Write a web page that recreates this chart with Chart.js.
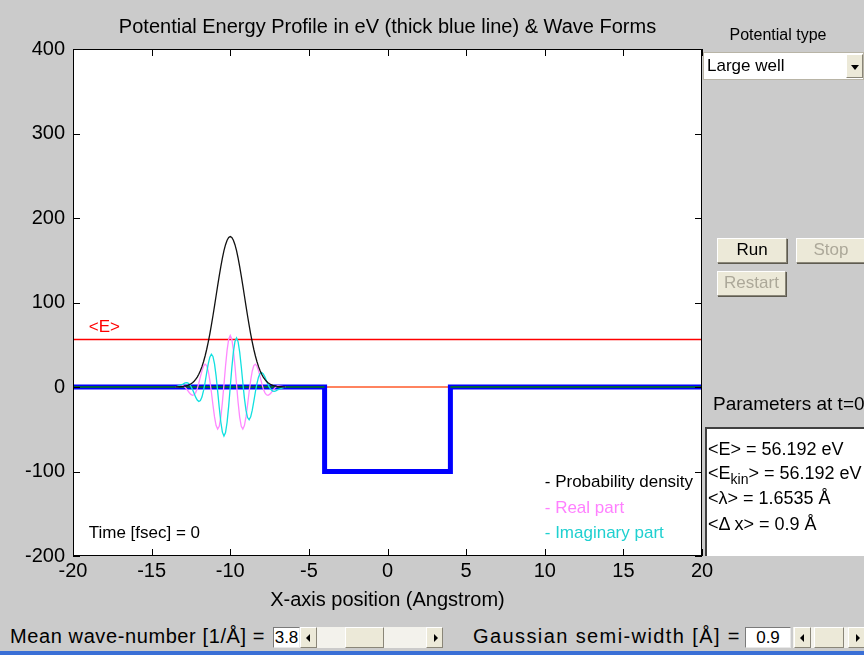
<!DOCTYPE html>
<html>
<head>
<meta charset="utf-8">
<script src="https://cdn.jsdelivr.net/npm/chart.js@4.4.0/dist/chart.umd.min.js"></script>
<style>
  body { margin: 0; width: 864px; height: 655px; background: #cbcbcb; overflow: hidden; position: relative; font-family: Arial, "Liberation Sans", sans-serif; color: #000; }
  .abs { position: absolute; white-space: nowrap; }
  .btn { background: #ece9d8; border: 1px solid; border-color: #fff #8a8678 #8a8678 #fff; box-shadow: 1px 1px 0 #5e5b50; text-align: center; font-size: 17px; box-sizing: border-box; }
  .off { color: #aca899; }
  .edit { background: #fff; border: 1px solid; border-color: #7a7a7a #e8e8e8 #e8e8e8 #7a7a7a; box-sizing: border-box; font-size: 17px; text-align: center; }
  .arrow { background: #ece9d8; border: 1px solid; border-color: #fff #8a8678 #8a8678 #fff; box-sizing: border-box; }
  .track { background: #f3f2ec; }
  .lbl { font-size: 20px; letter-spacing: 0.6px; }
  .tri-l { position: absolute; top: 6px; left: 5px; width: 0; height: 0; border-top: 4px solid transparent; border-bottom: 4px solid transparent; border-right: 4px solid #000; }
  .tri-r { position: absolute; top: 6px; left: 7px; width: 0; height: 0; border-top: 4px solid transparent; border-bottom: 4px solid transparent; border-left: 4px solid #000; }
</style>
</head>
<body>
<canvas id="chart" class="abs" style="left:0;top:0" width="760" height="612"></canvas>

<!-- right panel -->
<div class="abs" style="left:692px;top:26px;width:172px;text-align:center;font-size:16px;">Potential type</div>
<div class="abs" style="left:703px;top:52px;width:161px;height:28px;background:#fff;border:1px solid #b8b4a6;box-sizing:border-box;">
  <div class="abs" style="left:3px;top:2px;font-size:17px;line-height:22px;">Large well</div>
  <div class="abs arrow" style="right:0;top:1px;width:17px;height:24px;">
    <div class="abs" style="left:4px;top:10px;width:0;height:0;border-left:4px solid transparent;border-right:4px solid transparent;border-top:5px solid #000;"></div>
  </div>
</div>
<div class="abs btn" style="left:717px;top:238px;width:70px;height:25px;line-height:22px;">Run</div>
<div class="abs btn off" style="left:796px;top:238px;width:70px;height:25px;line-height:22px;">Stop</div>
<div class="abs btn off" style="left:717px;top:271px;width:69px;height:25px;line-height:22px;">Restart</div>
<div class="abs" style="left:713px;top:393px;font-size:19px;">Parameters at t=0</div>
<div class="abs" style="left:705px;top:427px;width:162px;height:129px;background:#fff;border-left:2px solid #404040;border-top:2px solid #404040;box-sizing:border-box;font-size:18px;">
  <div class="abs" style="left:1px;top:10px;">&lt;E&gt; = 56.192 eV</div>
  <div class="abs" style="left:1px;top:34px;">&lt;E<sub style="font-size:14px;">kin</sub>&gt; = 56.192 eV</div>
  <div class="abs" style="left:1px;top:59px;">&lt;λ&gt; = 1.6535 Å</div>
  <div class="abs" style="left:1px;top:85px;">&lt;Δ x&gt; = 0.9 Å</div>
</div>

<!-- bottom controls -->
<div class="abs lbl" style="left:10px;top:625px;">Mean wave-number [1/Å] =</div>
<div class="abs edit" style="left:273px;top:627px;width:27px;height:21px;line-height:19px;">3.8</div>
<div class="abs track" style="left:300px;top:627px;width:143px;height:21px;"></div>
<div class="abs arrow" style="left:300px;top:627px;width:17px;height:21px;"><div class="tri-l"></div></div>
<div class="abs arrow" style="left:345px;top:627px;width:39px;height:21px;"></div>
<div class="abs arrow" style="left:426px;top:627px;width:17px;height:21px;"><div class="tri-r"></div></div>

<div class="abs lbl" style="left:473px;top:625px;letter-spacing:1.4px;">Gaussian semi-width [Å] =</div>
<div class="abs edit" style="left:745px;top:627px;width:46px;height:21px;line-height:19px;">0.9</div>
<div class="abs track" style="left:793px;top:627px;width:80px;height:21px;"></div>
<div class="abs arrow" style="left:794px;top:627px;width:17px;height:21px;"><div class="tri-l"></div></div>
<div class="abs arrow" style="left:814px;top:627px;width:30px;height:21px;"></div>
<div class="abs arrow" style="left:848px;top:627px;width:17px;height:21px;"><div class="tri-r"></div></div>
<div class="abs" style="left:0;top:651px;width:864px;height:4px;background:#3a6fd6;"></div>

<script>
// potential profile (eV)
const xWell = [-20, -4, -4, 4, 4, 20];
const vWell = [0, 0, -100, -100, 0, 0];
const xOuter = [-20, -4, 0, 4, 20];
const vOuter = [0, 0, null, 0, 0];
const xLine = [-20, 20];
const zeroLine = [0, 0];
const meanE = [56.192, 56.192];

// wave packet at t = 0
const xWave = [-13.5, -13.0, -12.9, -12.8, -12.7, -12.6, -12.5, -12.4, -12.3, -12.2, -12.1, -12.0, -11.9, -11.8, -11.7, -11.6,
  -11.5, -11.4, -11.3, -11.2, -11.1, -11.0, -10.9, -10.8, -10.7, -10.6, -10.5, -10.4, -10.3, -10.2, -10.1, -10.0,
  -9.9, -9.8, -9.7, -9.6, -9.5, -9.4, -9.3, -9.2, -9.1, -9.0, -8.9, -8.8, -8.7, -8.6, -8.5, -8.4, -8.3, -8.2, -8.1,
  -8.0, -7.9, -7.8, -7.7, -7.6, -7.5, -7.4, -7.3, -7.2, -7.1, -7.0, -6.5];
const density = [0, 0.7, 1.0, 1.4, 2.0, 2.7, 3.8, 5.1, 6.8, 9.0, 11.7, 15.1, 19.2, 24.1, 29.9, 36.7, 44.4, 53.1, 62.7, 73.2, 84.3,
  96.0, 108.0, 119.9, 131.5, 142.5, 152.5, 161.3, 168.4, 173.7, 176.9, 178.0, 176.9, 173.7, 168.4, 161.3, 152.5, 142.5,
  131.5, 119.9, 108.0, 96.0, 84.3, 73.2, 62.7, 53.1, 44.4, 36.7, 29.9, 24.1, 19.2, 15.1, 11.7, 9.0, 6.8, 5.1, 3.8, 2.7,
  2.0, 1.4, 1.0, 0.7, 0];
const realPart = [0, 1.5, 0.1, -1.9, -4.3, -6.8, -8.8, -9.8, -9.2, -6.6, -2.0, 4.5, 11.9, 19.1, 24.6, 27.1, 25.4, 19.0, 8.2, -5.9,
  -21.3, -35.4, -45.7, -49.8, -46.5, -35.6, -18.3, 3.0, 24.8, 43.7, 56.5, 61.0, 56.5, 43.7, 24.8, 3.0, -18.3, -35.6, -46.5,
  -49.8, -45.7, -35.4, -21.3, -5.9, 8.2, 19.0, 25.4, 27.1, 24.6, 19.1, 11.9, 4.5, -2.0, -6.6, -9.2, -9.8, -8.8, -6.8, -4.3,
  -1.9, 0.1, 1.5, 0];
const imagPart = [0, 3.5, 4.6, 5.1, 4.8, 3.3, 0.7, -3.1, -7.5, -12.0, -15.5, -17.2, -16.1, -11.9, -4.4, 5.6, 16.8, 27.4, 35.3,
  38.7, 36.2, 27.4, 13.1, -5.1, -24.3, -41.4, -53.4, -58.0, -53.9, -41.5, -22.6, 0, 22.6, 41.5, 53.9, 58.0, 53.4, 41.4,
  24.3, 5.1, -13.1, -27.4, -36.2, -38.7, -35.3, -27.4, -16.8, -5.6, 4.4, 11.9, 16.1, 17.2, 15.5, 12.0, 7.5, 3.1, -0.7,
  -3.3, -4.8, -5.1, -4.6, -3.5, 0];

const xTicks = [-20, -15, -10, -5, 0, 5, 10, 15, 20];
const yTicks = [-200, -100, 0, 100, 200, 300, 400];

function pts(xs, ys) {
  return xs.map((x, i) => ({ x: x, y: ys[i] }));
}

// white plot box, inward ticks on all sides, text notes
const frame = {
  id: "frame",
  beforeDraw(chart) {
    const { ctx, chartArea: a } = chart;
    ctx.save();
    ctx.fillStyle = "#fff";
    ctx.fillRect(a.left, a.top, a.right - a.left, a.bottom - a.top);
    ctx.restore();
  },
  afterDraw(chart) {
    const { ctx, chartArea: a, scales } = chart;
    const sx = scales.x, sy = scales.y;
    ctx.save();
    ctx.strokeStyle = "#000";
    ctx.lineWidth = 1;
    ctx.strokeRect(a.left + 0.5, a.top + 0.5, a.right - a.left - 1, a.bottom - a.top - 1);
    ctx.beginPath();
    xTicks.forEach(v => {
      const px = Math.round(sx.getPixelForValue(v)) + 0.5;
      ctx.moveTo(px, a.bottom); ctx.lineTo(px, a.bottom - 7);
      ctx.moveTo(px, a.top); ctx.lineTo(px, a.top + 7);
    });
    yTicks.forEach(v => {
      const py = Math.round(sy.getPixelForValue(v)) + 0.5;
      ctx.moveTo(a.left, py); ctx.lineTo(a.left + 7, py);
      ctx.moveTo(a.right, py); ctx.lineTo(a.right - 7, py);
    });
    ctx.stroke();

    ctx.font = "17px Arial";
    ctx.textBaseline = "middle";
    ctx.textAlign = "left";
    ctx.fillStyle = "#ff0000";
    ctx.fillText("<E>", sx.getPixelForValue(-19), sy.getPixelForValue(71));
    ctx.fillStyle = "#000";
    ctx.fillText("Time [fsec] = 0", sx.getPixelForValue(-19), sy.getPixelForValue(-173));
    ctx.fillText("- Probability density", sx.getPixelForValue(10), sy.getPixelForValue(-113));
    ctx.fillStyle = "#ff80ff";
    ctx.fillText("- Real part", sx.getPixelForValue(10), sy.getPixelForValue(-143));
    ctx.fillStyle = "#1fd0d0";
    ctx.fillText("- Imaginary part", sx.getPixelForValue(10), sy.getPixelForValue(-173));
    ctx.restore();
  }
};

const line = (data, color, width, order) => ({
  data: data, borderColor: color, borderWidth: width, pointRadius: 0,
  showLine: true, fill: false, tension: 0, spanGaps: false, order: order
});

new Chart(document.getElementById("chart").getContext("2d"), {
  type: "scatter",
  data: {
    datasets: [
      line(pts(xWave, density), "#111", 1.3, 0),
      line(pts(xWave, imagPart), "#10e0e0", 1.3, 1),
      line(pts(xWave, realPart), "#ff88ff", 1.3, 2),
      line(pts(xOuter, vOuter), "#008000", 1.5, 3),
      line(pts(xWell, vWell), "#0000ff", 5, 4),
      line(pts(xLine, zeroLine), "#ff5a2a", 1.3, 5),
      line(pts(xLine, meanE), "#ff0000", 1.3, 6)
    ]
  },
  options: {
    responsive: false,
    animation: false,
    layout: { padding: { left: 0, right: 58, top: 0, bottom: 0 } },
    plugins: {
      legend: { display: false },
      tooltip: { enabled: false },
      title: {
        display: true,
        fullSize: false,
        text: "Potential Energy Profile in eV (thick blue line) & Wave Forms",
        color: "#000",
        font: { family: "Arial", size: 20, weight: "normal" },
        padding: { top: 15, bottom: 10 }
      }
    },
    scales: {
      x: {
        type: "linear", min: -20, max: 20,
        afterBuildTicks: s => { s.ticks = xTicks.map(v => ({ value: v })); },
        afterFit: s => { s.height = 56; },
        grid: { display: false, drawTicks: false },
        border: { display: false },
        ticks: { color: "#000", padding: 3, font: { family: "Arial", size: 20 } },
        title: { display: true, text: "X-axis position (Angstrom)", color: "#000",
          font: { family: "Arial", size: 20 }, padding: { top: 0, bottom: 0 } }
      },
      y: {
        type: "linear", min: -200, max: 400,
        afterBuildTicks: s => { s.ticks = yTicks.map(v => ({ value: v })); },
        afterFit: s => { s.width = 73; },
        grid: { display: false, drawTicks: false },
        border: { display: false },
        ticks: { color: "#000", padding: 8, font: { family: "Arial", size: 20 } }
      }
    }
  },
  plugins: [frame]
});
</script>
</body>
</html>
